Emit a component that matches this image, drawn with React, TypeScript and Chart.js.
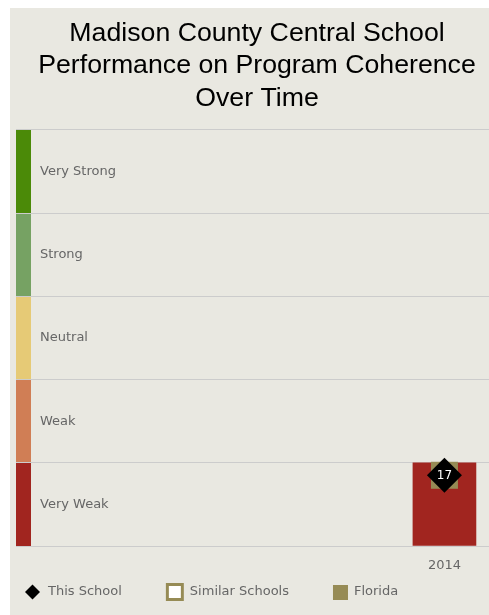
import React, { useEffect, useRef } from "react";
import { Chart, registerables } from "chart.js";

Chart.register(...registerables);

const titleLines = [
  "Madison County Central School",
  "Performance on Program Coherence",
  "Over Time",
];
const years = [2014];
const thisSchool = [17];
const similarSchools: (number | null)[] = [null];
const florida = [17];
const bandBar = [20];
const bandEdges = [0, 20, 40, 60, 80, 100];
const bandLabels = ["Very Weak", "Weak", "Neutral", "Strong", "Very Strong"];
const bandColors = ["#a1251f", "#d07e55", "#e6ca76", "#76a263", "#4b8a08"];
const legendLabels = ["This School", "Similar Schools", "Florida"];

const OLIVE = "#968b55";
const BAR_RED = "#a1251f";
const SANS = '"DejaVu Sans", Verdana, sans-serif';

export default function App() {
  const ref = useRef<HTMLCanvasElement | null>(null);

  useEffect(() => {
    const canvas = ref.current;
    if (!canvas) return;

    const bandsPlugin = {
      id: "bands",
      beforeDraw(chart: any) {
        const { ctx, chartArea, scales } = chart;
        const y = scales.y;
        ctx.save();
        for (let i = 0; i < bandLabels.length; i++) {
          const top = y.getPixelForValue(bandEdges[i + 1]);
          const bot = y.getPixelForValue(bandEdges[i]);
          ctx.fillStyle = bandColors[i];
          ctx.fillRect(chartArea.left, top, 15, bot - top);
          ctx.fillStyle = "#666666";
          ctx.font = "13px " + SANS;
          ctx.textBaseline = "middle";
          ctx.textAlign = "left";
          ctx.fillText(bandLabels[i], chartArea.left + 24, (top + bot) / 2);
        }
        ctx.restore();
      },
    };

    const labelPlugin = {
      id: "pointLabel",
      afterDatasetsDraw(chart: any) {
        const { ctx } = chart;
        const meta = chart.getDatasetMeta(0);
        ctx.save();
        ctx.fillStyle = "#ffffff";
        ctx.font = "12px " + SANS;
        ctx.textAlign = "center";
        ctx.textBaseline = "middle";
        meta.data.forEach((el: any, i: number) => {
          const v = thisSchool[i];
          if (v == null) return;
          ctx.fillText(String(v), el.x, el.y + 1);
        });
        ctx.restore();
      },
    };

    const legendPlugin = {
      id: "customLegend",
      afterDraw(chart: any) {
        const { ctx, chartArea } = chart;
        const cy = chartArea.bottom + 46;
        let x = chartArea.left + 9;
        ctx.save();
        ctx.font = "13px " + SANS;
        ctx.textBaseline = "middle";
        ctx.textAlign = "left";
        legendLabels.forEach((label, i) => {
          let w = 15;
          let gap = 6;
          if (i === 0) {
            ctx.fillStyle = "#000000";
            ctx.beginPath();
            ctx.moveTo(x, cy);
            ctx.lineTo(x + 7.5, cy - 7.5);
            ctx.lineTo(x + 15, cy);
            ctx.lineTo(x + 7.5, cy + 7.5);
            ctx.closePath();
            ctx.fill();
            gap = 8;
          } else if (i === 1) {
            w = 18;
            ctx.fillStyle = "#ffffff";
            ctx.fillRect(x, cy - 9, 18, 18);
            ctx.strokeStyle = OLIVE;
            ctx.lineWidth = 3;
            ctx.strokeRect(x + 1.5, cy - 7.5, 15, 15);
          } else {
            ctx.fillStyle = OLIVE;
            ctx.fillRect(x, cy - 7, 15, 15);
          }
          x += w + gap;
          ctx.fillStyle = "#666666";
          ctx.fillText(label, x, cy);
          x += ctx.measureText(label).width + 44;
        });
        ctx.restore();
      },
    };

    const chart = new Chart(canvas, {
      type: "bar",
      data: {
        datasets: [
          {
            type: "line",
            label: "This School",
            data: years.map((yr, i) => ({ x: yr, y: thisSchool[i] })),
            showLine: false,
            pointStyle: "rectRot",
            pointRadius: 17.5,
            pointBackgroundColor: "#000000",
            pointBorderWidth: 0,
            backgroundColor: "#000000",
            borderColor: "#000000",
          } as any,
          {
            type: "line",
            label: "Similar Schools",
            data: years.map((yr, i) => ({ x: yr, y: similarSchools[i] })),
            showLine: false,
            pointStyle: "rect",
            pointRadius: 12,
            pointBackgroundColor: "#ffffff",
            pointBorderColor: OLIVE,
            pointBorderWidth: 3,
          } as any,
          {
            type: "line",
            label: "Florida",
            data: years.map((yr, i) => ({ x: yr, y: florida[i] })),
            showLine: false,
            pointStyle: "rect",
            pointRadius: 19.1,
            pointBackgroundColor: OLIVE,
            pointBorderWidth: 0,
            backgroundColor: OLIVE,
            borderColor: OLIVE,
          } as any,
          {
            type: "bar",
            label: "Band",
            data: years.map((yr, i) => ({ x: yr, y: bandBar[i] })),
            backgroundColor: BAR_RED,
            barThickness: 63,
            borderWidth: 0,
          } as any,
        ],
      },
      options: {
        responsive: false,
        animation: false,
        events: [],
        layout: {
          autoPadding: false,
          padding: { left: 6, right: 4, top: 0, bottom: 29.4 },
        },
        scales: {
          x: {
            type: "linear",
            min: 2010,
            max: 2014.5,
            offset: false,
            afterBuildTicks: (scale: any) => {
              scale.ticks = years.map((v) => ({ value: v }));
            },
            ticks: {
              callback: (v: any) => String(v),
              color: "#666666",
              font: { family: SANS, size: 13 },
              padding: 12,
              maxRotation: 0,
              autoSkip: false,
            },
            grid: { display: false, drawTicks: false, tickLength: 0 },
            border: { display: false },
          },
          y: {
            min: 0,
            max: 100,
            afterBuildTicks: (scale: any) => {
              scale.ticks = bandEdges.map((v) => ({ value: v }));
            },
            ticks: { display: false },
            grid: { color: "#cccccc", drawTicks: false, tickLength: 0, lineWidth: 1 },
            border: { display: false },
          },
        },
        plugins: {
          legend: { display: false },
          tooltip: { enabled: false },
          title: {
            display: true,
            text: titleLines,
            color: "#000000",
            font: {
              family: '"Liberation Sans", Arial, sans-serif',
              size: 26.7,
              weight: "normal",
              lineHeight: 1.217,
            },
            padding: { top: 9, bottom: 15.5 },
          },
        },
      },
      plugins: [bandsPlugin, labelPlugin, legendPlugin],
    } as any);

    return () => chart.destroy();
  }, []);

  return (
    <div
      style={{
        position: "fixed",
        left: 10,
        top: 8,
        width: 479,
        height: 607,
        overflow: "hidden",
        background: "#e9e8e1",
      }}
    >
      <canvas ref={ref} width={492} height={607} style={{ display: "block" }} />
    </div>
  );
}
